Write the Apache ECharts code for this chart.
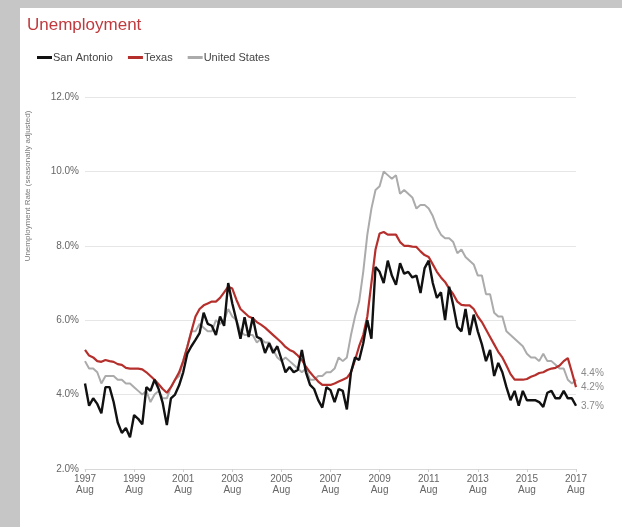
<!DOCTYPE html>
<html>
<head>
<meta charset="utf-8">
<script src="https://cdn.jsdelivr.net/npm/echarts@6/dist/echarts.min.js"></script>
<style>
html,body{margin:0;padding:0;background:#c6c6c6;}
#c{width:622px;height:527px;}
</style>
</head>
<body>
<div id="c"></div>
<script>
// Bimonthly observations from Aug 1997 to Aug 2017
var startYear = 1997, startMonth = 8, stepMonths = 2, nPoints = 121;
var tickYears = ['1997','1999','2001','2003','2005','2007','2009','2011','2013','2015','2017'];
var seriesNames = ['San Antonio', 'Texas', 'United States'];

var sanAntonio = [4.3,3.7,3.9,3.75,3.5,4.2,4.2,3.8,3.25,2.97,3.1,2.85,3.45,3.35,3.2,4.2,4.1,4.4,4.15,3.77,
  3.18,3.9,4.0,4.25,4.6,5.1,5.3,5.47,5.65,6.2,5.9,5.85,5.6,6.1,5.85,7.0,6.45,6.0,5.5,6.08,
  5.55,6.08,5.55,5.5,5.12,5.38,5.12,5.3,4.95,4.6,4.74,4.6,4.66,5.2,4.6,4.26,4.15,3.85,3.65,4.2,
  4.12,3.8,4.15,4.1,3.6,4.6,5.0,4.93,5.38,6.0,5.5,7.43,7.3,7.0,7.6,7.2,6.95,7.53,7.25,7.3,
  7.15,7.2,6.73,7.4,7.6,7.0,6.6,6.75,6.0,6.9,6.4,5.82,5.7,6.3,5.6,6.15,5.7,5.35,4.9,5.2,
  4.5,4.85,4.6,4.2,3.85,4.1,3.7,4.1,3.85,3.85,3.85,3.8,3.67,4.05,4.1,3.9,3.9,4.1,3.9,3.9,3.7];

var texas = [5.2,5.05,5.0,4.9,4.88,4.93,4.9,4.88,4.82,4.8,4.72,4.7,4.7,4.7,4.68,4.6,4.5,4.4,4.28,4.15,
  4.05,4.2,4.4,4.6,4.9,5.28,5.7,6.1,6.3,6.4,6.45,6.5,6.5,6.6,6.75,6.9,6.85,6.55,6.3,6.2,
  6.1,6.05,5.95,5.88,5.8,5.7,5.6,5.5,5.4,5.28,5.2,5.15,5.05,4.93,4.75,4.6,4.47,4.35,4.26,4.26,
  4.26,4.3,4.35,4.4,4.45,4.6,4.93,5.3,5.6,6.1,7.0,7.9,8.33,8.37,8.3,8.3,8.3,8.1,8.0,8.0,
  7.98,7.97,7.85,7.75,7.7,7.5,7.3,7.15,7.03,6.85,6.7,6.5,6.41,6.4,6.4,6.3,6.1,5.95,5.75,5.55,
  5.35,5.15,5.0,4.78,4.55,4.4,4.4,4.4,4.42,4.48,4.52,4.58,4.6,4.66,4.7,4.72,4.78,4.9,4.98,4.6,4.2];

var unitedStates = [4.9,4.7,4.7,4.6,4.3,4.5,4.5,4.5,4.4,4.4,4.3,4.3,4.2,4.1,4.0,4.1,3.8,4.0,4.1,3.9,
  3.9,4.2,4.4,4.5,4.9,5.3,5.7,5.7,5.9,5.8,5.7,5.7,6.0,5.9,6.0,6.3,6.1,6.0,5.7,5.6,
  5.6,5.6,5.4,5.5,5.4,5.4,5.2,5.0,4.9,5.0,4.9,4.8,4.7,4.6,4.7,4.4,4.4,4.5,4.5,4.6,
  4.6,4.7,5.0,4.9,5.0,5.6,6.1,6.5,7.3,8.3,9.0,9.5,9.6,10.0,9.9,9.8,9.9,9.4,9.5,9.4,
  9.3,9.0,9.1,9.1,9.0,8.8,8.5,8.3,8.2,8.2,8.1,7.8,7.9,7.7,7.6,7.5,7.2,7.2,6.7,6.7,
  6.2,6.1,6.1,5.7,5.6,5.5,5.4,5.3,5.1,5.0,5.0,4.9,5.1,4.9,4.9,4.8,4.7,4.7,4.4,4.3,4.4];

var monthNames = ['Jan','Feb','Mar','Apr','May','Jun','Jul','Aug','Sep','Oct','Nov','Dec'];
var categories = [];
for (var i = 0; i < nPoints; i++) {
  var mAbs = (startMonth - 1) + i * stepMonths;
  categories.push((startYear + Math.floor(mAbs / 12)) + ' ' + monthNames[mAbs % 12]);
}

var FONT = '"Liberation Sans", Arial, Helvetica, sans-serif';
var chart = echarts.init(document.getElementById('c'), null, {renderer: 'canvas'});

function endLbl(dy) {
  return {
    show: true,
    distance: 5,
    offset: [0, dy],
    color: '#8a8a8a',
    fontSize: 10,
    fontFamily: FONT,
    formatter: function (p) { return Number(p.value).toFixed(1) + '%'; }
  };
}

chart.setOption({
  backgroundColor: '#c6c6c6',
  animation: false,
  graphic: [
    {type: 'rect', left: 20, top: 8, shape: {width: 602, height: 519}, style: {fill: '#ffffff'}, z: -10, silent: true},
    {type: 'text', x: 28, y: 186, rotation: Math.PI / 2, style: {
      text: 'Unemployment Rate (seasonally adjusted)', fill: '#7a7a7a', fontSize: 8, fontFamily: FONT,
      align: 'center', verticalAlign: 'middle'}}
  ],
  title: {
    text: 'Unemployment',
    left: 22, top: 12,
    textStyle: {color: '#c0393d', fontSize: 17, fontWeight: 'normal', fontFamily: FONT}
  },
  legend: {
    left: 32, top: 47,
    icon: 'rect',
    itemWidth: 15, itemHeight: 3, itemGap: 15,
    textStyle: {color: '#444', fontSize: 11, fontFamily: FONT, padding: [0, 0, 0, -4]},
    data: seriesNames
  },
  grid: {left: 85, width: 491, top: 97, bottom: 58, containLabel: false},
  xAxis: {
    type: 'category',
    data: categories,
    boundaryGap: false,
    axisLine: {lineStyle: {color: '#d8d8d8'}},
    axisTick: {interval: 11, length: 3, lineStyle: {color: '#cfcfcf'}},
    axisLabel: {
      interval: 11,
      color: '#666', fontSize: 10, fontFamily: FONT, lineHeight: 11, margin: 5,
      formatter: function (v, idx) { return tickYears[idx / 12] + '\nAug'; }
    },
    splitLine: {show: false}
  },
  yAxis: {
    type: 'value',
    min: 2, max: 12, interval: 2,
    axisLine: {show: false},
    axisTick: {show: false},
    axisLabel: {color: '#666', fontSize: 10, fontFamily: FONT, margin: 6,
      formatter: function (v) { return v.toFixed(1) + '%'; }},
    splitLine: {lineStyle: {color: '#e6e6e6', width: 1}}
  },
  series: [
    {name: seriesNames[2], type: 'line', data: unitedStates, showSymbol: false, z: 1,
      lineStyle: {color: '#ababab', width: 2}, itemStyle: {color: '#ababab'}, endLabel: endLbl(-6)},
    {name: seriesNames[1], type: 'line', data: texas, showSymbol: false, z: 2,
      lineStyle: {color: '#b5302c', width: 2.2}, itemStyle: {color: '#b5302c'}, endLabel: endLbl(0)},
    {name: seriesNames[0], type: 'line', data: sanAntonio, showSymbol: false, z: 3,
      lineStyle: {color: '#111111', width: 2.4}, itemStyle: {color: '#111111'}, endLabel: endLbl(0)}
  ]
});
</script>
</body>
</html>
